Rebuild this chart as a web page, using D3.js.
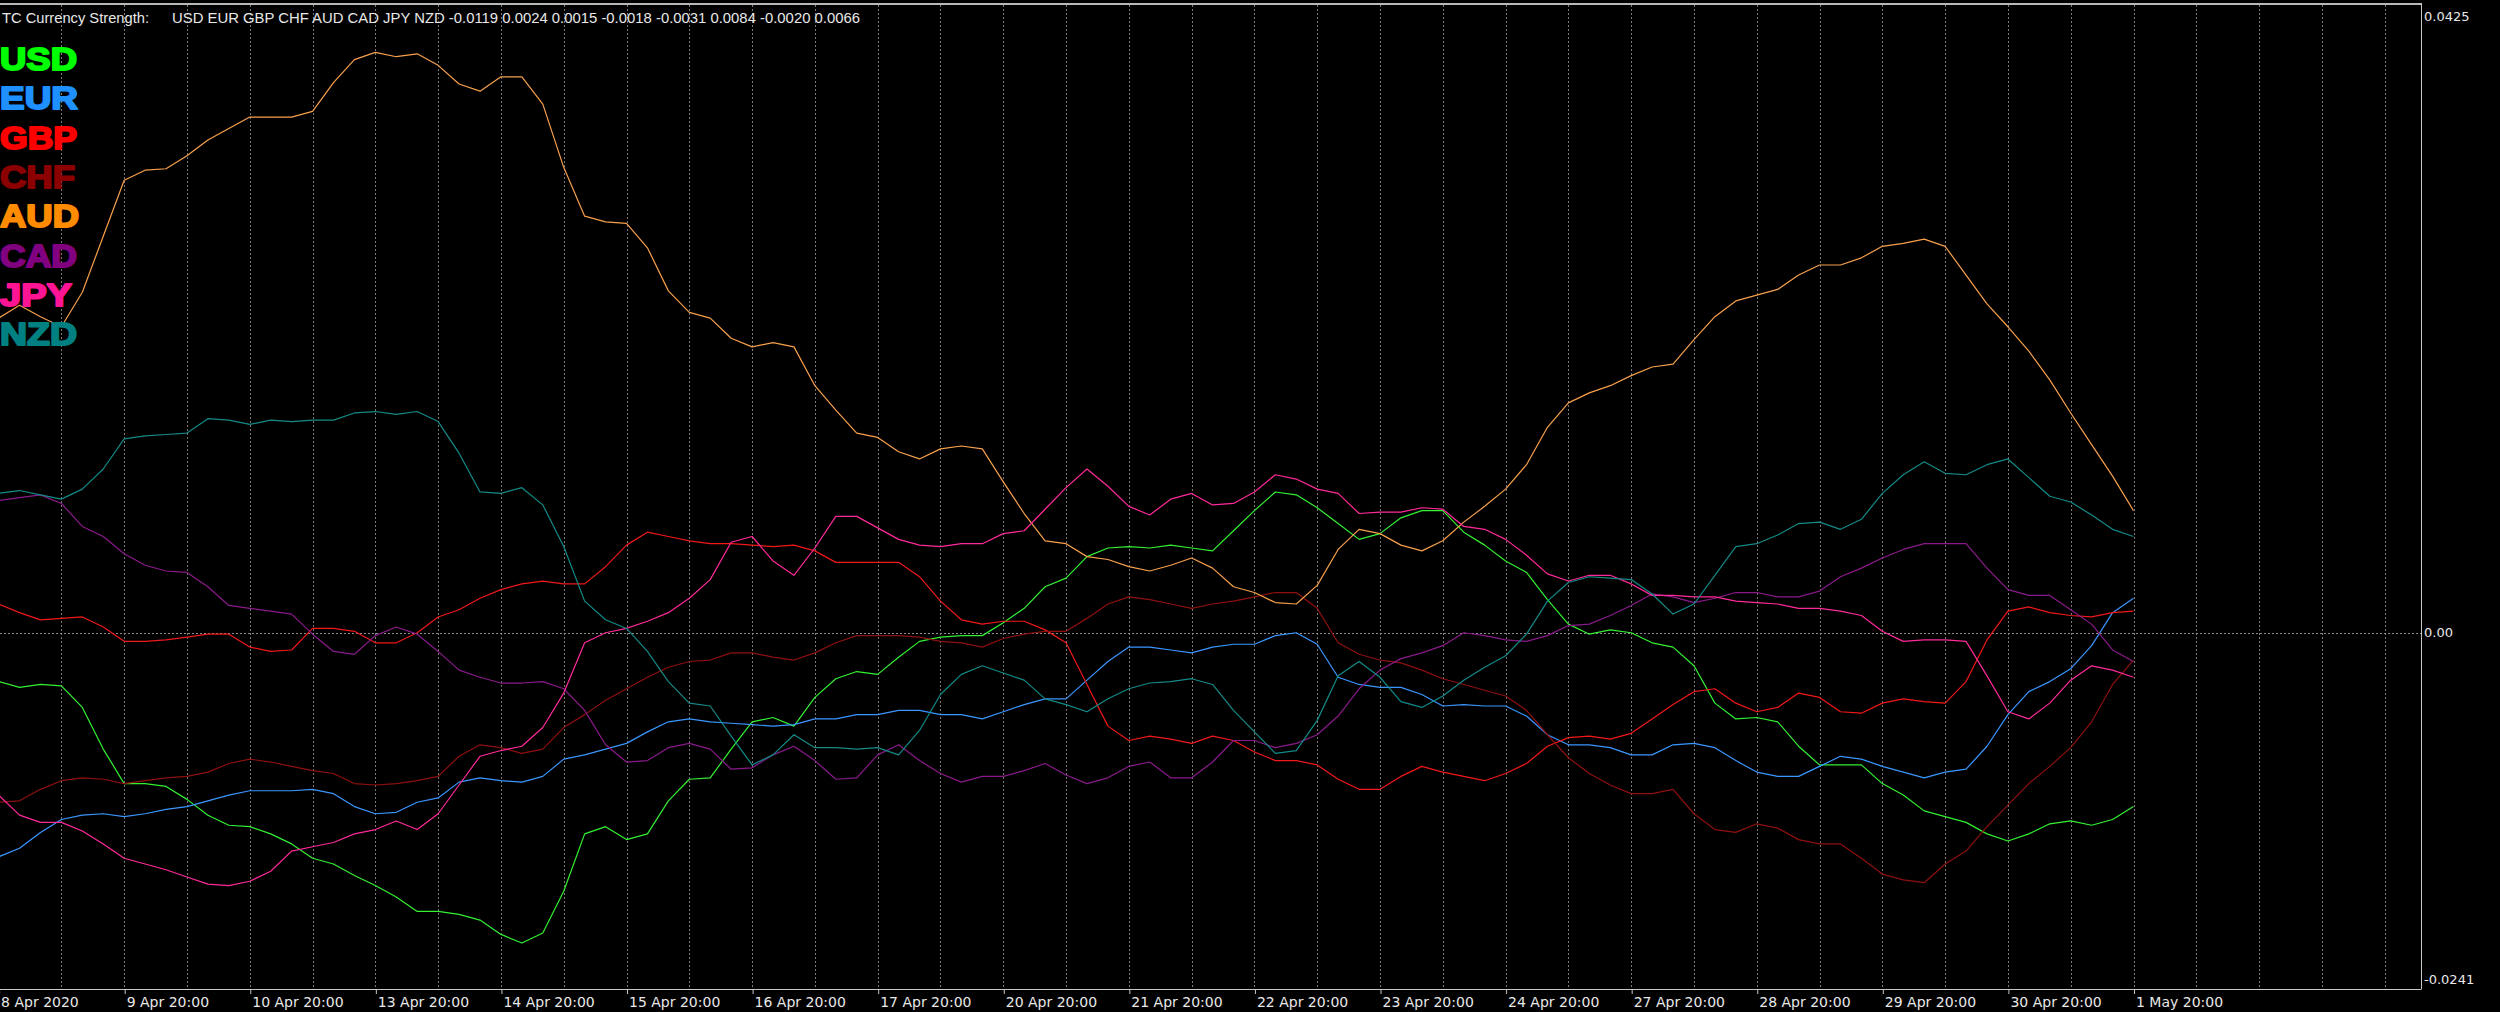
<!DOCTYPE html>
<html><head><meta charset="utf-8">
<script src="https://cdn.jsdelivr.net/npm/d3@7"></script>
<style>html,body{margin:0;padding:0;background:#000;overflow:hidden}</style>
</head><body>
<svg id="chart" width="2500" height="1012"></svg>
<script>
// ---------------- data ----------------
const currencies = ["USD","EUR","GBP","CHF","AUD","CAD","JPY","NZD"];
const barCount = 103; // H4 bars, 8 Apr 20:00 .. 1 May 20:00

const usd = [-0.0034,-0.0038,-0.0036,-0.0037,-0.0052,-0.0081,-0.0105,-0.0105,-0.0107,-0.0116,-0.0127,-0.0134,-0.0135,-0.0140,-0.0147,-0.0157,-0.0161,-0.0169,-0.0176,-0.0184,-0.0194,-0.0194,-0.0196,-0.0200,-0.0210,-0.0216,-0.0209,-0.0180,-0.0140,-0.0135,-0.0144,-0.0140,-0.0117,-0.0102,-0.0101,-0.0081,-0.0062,-0.0059,-0.0065,-0.0045,-0.0032,-0.0027,-0.0029,-0.0017,-0.0006,-0.0003,-0.0002,-0.0002,0.0007,0.0017,0.0032,0.0038,0.0053,0.0059,0.0060,0.0059,0.0061,0.0059,0.0057,0.0071,0.0085,0.0098,0.0096,0.0087,0.0076,0.0065,0.0069,0.0080,0.0085,0.0085,0.0070,0.0061,0.0050,0.0042,0.0023,0.0006,-0.0001,0.0002,0.0000,-0.0007,-0.0010,-0.0023,-0.0049,-0.0060,-0.0059,-0.0062,-0.0079,-0.0092,-0.0092,-0.0092,-0.0105,-0.0113,-0.0124,-0.0128,-0.0132,-0.0140,-0.0145,-0.0140,-0.0133,-0.0131,-0.0134,-0.0130,-0.0121];

const eur = [-0.0156,-0.0150,-0.0139,-0.0130,-0.0127,-0.0126,-0.0128,-0.0126,-0.0123,-0.0121,-0.0117,-0.0113,-0.0110,-0.0110,-0.0110,-0.0109,-0.0112,-0.0121,-0.0126,-0.0125,-0.0118,-0.0115,-0.0104,-0.0101,-0.0103,-0.0104,-0.0100,-0.0088,-0.0085,-0.0081,-0.0077,-0.0069,-0.0062,-0.0060,-0.0062,-0.0063,-0.0064,-0.0065,-0.0064,-0.0060,-0.0060,-0.0057,-0.0057,-0.0054,-0.0054,-0.0057,-0.0057,-0.0060,-0.0055,-0.0050,-0.0046,-0.0046,-0.0033,-0.0020,-0.0010,-0.0010,-0.0012,-0.0014,-0.0010,-0.0008,-0.0008,-0.0002,0.0000,-0.0008,-0.0031,-0.0036,-0.0038,-0.0038,-0.0043,-0.0051,-0.0050,-0.0051,-0.0051,-0.0058,-0.0071,-0.0078,-0.0078,-0.0080,-0.0085,-0.0085,-0.0078,-0.0077,-0.0080,-0.0089,-0.0097,-0.0100,-0.0100,-0.0093,-0.0086,-0.0088,-0.0093,-0.0097,-0.0101,-0.0097,-0.0095,-0.0079,-0.0057,-0.0041,-0.0034,-0.0025,-0.0009,0.0014,0.0024];

const gbp = [0.0020,0.0014,0.0009,0.0010,0.0011,0.0004,-0.0006,-0.0006,-0.0005,-0.0003,-0.0001,-0.0001,-0.0010,-0.0013,-0.0012,0.0003,0.0003,0.0001,-0.0007,-0.0007,0.0000,0.0011,0.0016,0.0024,0.0030,0.0034,0.0036,0.0034,0.0034,0.0046,0.0061,0.0070,0.0067,0.0064,0.0062,0.0062,0.0061,0.0060,0.0061,0.0057,0.0049,0.0049,0.0049,0.0049,0.0039,0.0022,0.0009,0.0006,0.0008,0.0008,0.0002,-0.0007,-0.0036,-0.0065,-0.0075,-0.0072,-0.0074,-0.0077,-0.0072,-0.0075,-0.0083,-0.0089,-0.0089,-0.0092,-0.0102,-0.0109,-0.0109,-0.0100,-0.0093,-0.0097,-0.0100,-0.0103,-0.0098,-0.0091,-0.0079,-0.0073,-0.0072,-0.0074,-0.0070,-0.0060,-0.0050,-0.0041,-0.0039,-0.0049,-0.0055,-0.0052,-0.0042,-0.0045,-0.0055,-0.0056,-0.0049,-0.0046,-0.0048,-0.0049,-0.0034,-0.0005,0.0015,0.0018,0.0014,0.0012,0.0011,0.0014,0.0015];

const chf = [-0.0118,-0.0117,-0.0109,-0.0103,-0.0101,-0.0102,-0.0105,-0.0103,-0.0101,-0.0100,-0.0097,-0.0091,-0.0088,-0.0090,-0.0093,-0.0096,-0.0098,-0.0105,-0.0106,-0.0105,-0.0103,-0.0100,-0.0086,-0.0078,-0.0080,-0.0084,-0.0081,-0.0066,-0.0057,-0.0047,-0.0039,-0.0031,-0.0024,-0.0020,-0.0019,-0.0014,-0.0014,-0.0017,-0.0019,-0.0014,-0.0007,-0.0002,-0.0002,-0.0002,-0.0003,-0.0006,-0.0007,-0.0010,-0.0004,-0.0001,0.0001,0.0001,0.0010,0.0020,0.0025,0.0023,0.0020,0.0017,0.0020,0.0022,0.0025,0.0028,0.0028,0.0017,-0.0007,-0.0015,-0.0019,-0.0021,-0.0026,-0.0032,-0.0036,-0.0040,-0.0044,-0.0054,-0.0071,-0.0087,-0.0098,-0.0106,-0.0112,-0.0112,-0.0109,-0.0126,-0.0137,-0.0139,-0.0133,-0.0136,-0.0144,-0.0147,-0.0147,-0.0157,-0.0168,-0.0172,-0.0174,-0.0161,-0.0152,-0.0135,-0.0120,-0.0105,-0.0093,-0.0080,-0.0062,-0.0036,-0.0019];

const aud = [0.0219,0.0228,0.0220,0.0213,0.0237,0.0276,0.0315,0.0322,0.0323,0.0332,0.0343,0.0351,0.0359,0.0359,0.0359,0.0363,0.0383,0.0399,0.0404,0.0401,0.0403,0.0395,0.0382,0.0377,0.0387,0.0387,0.0368,0.0324,0.0290,0.0286,0.0285,0.0268,0.0238,0.0223,0.0219,0.0205,0.0199,0.0202,0.0199,0.0172,0.0155,0.0139,0.0136,0.0126,0.0121,0.0128,0.0130,0.0128,0.0105,0.0083,0.0064,0.0062,0.0053,0.0051,0.0046,0.0043,0.0047,0.0052,0.0045,0.0032,0.0028,0.0021,0.0020,0.0033,0.0058,0.0072,0.0069,0.0061,0.0057,0.0064,0.0077,0.0088,0.0100,0.0117,0.0143,0.0160,0.0167,0.0172,0.0179,0.0185,0.0187,0.0204,0.0220,0.0231,0.0235,0.0239,0.0249,0.0256,0.0256,0.0261,0.0269,0.0271,0.0274,0.0269,0.0249,0.0229,0.0213,0.0196,0.0176,0.0153,0.0131,0.0109,0.0085];

const cad = [0.0092,0.0094,0.0096,0.0090,0.0074,0.0067,0.0055,0.0047,0.0043,0.0042,0.0032,0.0019,0.0017,0.0015,0.0013,-0.0001,-0.0013,-0.0015,-0.0002,0.0004,-0.0001,-0.0013,-0.0026,-0.0031,-0.0035,-0.0035,-0.0034,-0.0039,-0.0054,-0.0078,-0.0090,-0.0089,-0.0080,-0.0077,-0.0081,-0.0095,-0.0094,-0.0085,-0.0079,-0.0089,-0.0102,-0.0101,-0.0085,-0.0078,-0.0089,-0.0098,-0.0104,-0.0100,-0.0100,-0.0096,-0.0091,-0.0099,-0.0105,-0.0101,-0.0093,-0.0090,-0.0101,-0.0101,-0.0090,-0.0075,-0.0075,-0.0080,-0.0077,-0.0071,-0.0058,-0.0039,-0.0026,-0.0018,-0.0014,-0.0009,0.0000,-0.0002,-0.0005,-0.0006,-0.0002,0.0005,0.0006,0.0012,0.0019,0.0027,0.0025,0.0021,0.0024,0.0028,0.0028,0.0025,0.0025,0.0029,0.0039,0.0045,0.0052,0.0058,0.0062,0.0062,0.0062,0.0045,0.0030,0.0026,0.0026,0.0016,0.0006,-0.0012,-0.0020];

const jpy = [-0.0113,-0.0127,-0.0132,-0.0132,-0.0138,-0.0147,-0.0157,-0.0161,-0.0165,-0.0170,-0.0175,-0.0176,-0.0173,-0.0166,-0.0152,-0.0149,-0.0146,-0.0140,-0.0137,-0.0131,-0.0137,-0.0126,-0.0106,-0.0086,-0.0082,-0.0079,-0.0066,-0.0042,-0.0007,0.0000,0.0003,0.0008,0.0014,0.0024,0.0037,0.0063,0.0067,0.0050,0.0040,0.0059,0.0081,0.0081,0.0073,0.0065,0.0061,0.0060,0.0062,0.0062,0.0069,0.0071,0.0086,0.0101,0.0114,0.0102,0.0088,0.0082,0.0093,0.0097,0.0089,0.0090,0.0098,0.0110,0.0107,0.0100,0.0097,0.0083,0.0084,0.0084,0.0087,0.0086,0.0074,0.0072,0.0065,0.0054,0.0041,0.0036,0.0040,0.0040,0.0034,0.0026,0.0026,0.0025,0.0025,0.0022,0.0021,0.0020,0.0017,0.0017,0.0015,0.0012,0.0001,-0.0006,-0.0005,-0.0005,-0.0006,-0.0030,-0.0055,-0.0060,-0.0049,-0.0033,-0.0023,-0.0026,-0.0031];

const nzd = [0.0097,0.0099,0.0096,0.0093,0.0100,0.0114,0.0135,0.0137,0.0138,0.0139,0.0149,0.0148,0.0145,0.0148,0.0147,0.0148,0.0148,0.0153,0.0154,0.0152,0.0154,0.0147,0.0125,0.0098,0.0097,0.0101,0.0089,0.0060,0.0022,0.0009,0.0003,-0.0013,-0.0034,-0.0049,-0.0051,-0.0072,-0.0092,-0.0085,-0.0071,-0.0080,-0.0080,-0.0081,-0.0080,-0.0085,-0.0068,-0.0043,-0.0029,-0.0023,-0.0028,-0.0033,-0.0046,-0.0050,-0.0055,-0.0046,-0.0039,-0.0035,-0.0034,-0.0032,-0.0036,-0.0054,-0.0069,-0.0084,-0.0082,-0.0061,-0.0030,-0.0020,-0.0031,-0.0048,-0.0052,-0.0044,-0.0033,-0.0024,-0.0016,-0.0001,0.0022,0.0035,0.0039,0.0038,0.0037,0.0027,0.0013,0.0020,0.0040,0.0060,0.0062,0.0068,0.0076,0.0077,0.0072,0.0079,0.0097,0.0110,0.0119,0.0111,0.0110,0.0117,0.0121,0.0108,0.0095,0.0091,0.0082,0.0072,0.0067];

const xTickBars = [0,6,12,18,24,30,36,42,48,54,60,66,72,78,84,90,96,102];
const xTickLabels = ["8 Apr 2020","9 Apr 20:00","10 Apr 20:00","13 Apr 20:00","14 Apr 20:00","15 Apr 20:00","16 Apr 20:00","17 Apr 20:00","20 Apr 20:00","21 Apr 20:00","22 Apr 20:00","23 Apr 20:00","24 Apr 20:00","27 Apr 20:00","28 Apr 20:00","29 Apr 20:00","30 Apr 20:00","1 May 20:00"];
const yTickValues = [0.0425, 0, -0.0241];
const yTickLabels = ["0.0425","0.00","-0.0241"];
const headerTitle = "TC Currency Strength:";
const headerValues = "USD EUR GBP CHF AUD CAD JPY NZD -0.0119 0.0024 0.0015 -0.0018 -0.0031 0.0084 -0.0020 0.0066";

// ---------------- styles ----------------
const seriesList = [usd, eur, gbp, chf, aud, cad, jpy, nzd];
const colors = ["#00ff00","#1e90ff","#ff0000","#8b0000","#ff8c00","#800080","#ff1493","#008080"];
const lineColors = ["#33f033","#3a96ff","#f01818","#8e1010","#f7a04c","#8a1a8a","#ff2a9a","#138a88"];
const legendWidths = [78,79,78,76,80,78,73,78];

// ---------------- layout ----------------
const svg = d3.select("#chart");
const plotLeft = 0, plotRight = 2421, plotTop = 5, plotBottom = 989;
const x = d3.scaleLinear().domain([0, 102]).range([-1.4, 2133.5]);
const y = d3.scaleLinear().domain([-0.0248, 0.0437]).range([plotBottom, plotTop]);

svg.append("rect").attr("width",2500).attr("height",1012).attr("fill","#000");

svg.append("defs").append("clipPath").attr("id","plotclip")
  .append("rect").attr("x",plotLeft).attr("y",plotTop).attr("width",plotRight-plotLeft).attr("height",plotBottom-plotTop);

// vertical dotted grid (every 12h = 3 bars)
const gridBars = d3.range(3, 116, 3).filter(b => x(b) < plotRight - 2);
svg.append("g").selectAll("line").data(gridBars).join("line")
  .attr("x1", d => Math.round(x(d)) + 0.5).attr("x2", d => Math.round(x(d)) + 0.5)
  .attr("y1", plotTop).attr("y2", plotBottom)
  .attr("stroke", "#7a7a7a").attr("stroke-width", 1).attr("stroke-dasharray", "2,2");

// zero level dotted line
svg.append("line")
  .attr("x1", plotLeft).attr("x2", plotRight)
  .attr("y1", Math.round(y(0)) + 0.5).attr("y2", Math.round(y(0)) + 0.5)
  .attr("stroke", "#8c8c8c").attr("stroke-dasharray", "2,2");

// series
const line = d3.line().x((d,i) => x(i)).y(d => y(d));
const gLines = svg.append("g").attr("clip-path","url(#plotclip)");
seriesList.forEach((s, k) => {
  gLines.append("path").datum(s)
    .attr("d", line).attr("fill","none")
    .attr("stroke", lineColors[k]).attr("stroke-width", 1.2)
    .attr("stroke-linejoin","round");
});

// frame
svg.append("line").attr("x1",0).attr("x2",plotRight).attr("y1",4).attr("y2",4)
  .attr("stroke","#b8b8b8").attr("stroke-width",2);
svg.append("line").attr("x1",plotRight+0.5).attr("x2",plotRight+0.5).attr("y1",3).attr("y2",plotBottom+0.5)
  .attr("stroke","#c8c8c8").attr("stroke-width",1);
svg.append("line").attr("x1",0).attr("x2",plotRight).attr("y1",plotBottom+0.5).attr("y2",plotBottom+0.5)
  .attr("stroke","#c8c8c8").attr("stroke-width",1);

// bottom axis
const xAxis = d3.axisBottom(x).tickValues(xTickBars)
  .tickFormat((d,i) => xTickLabels[i]).tickSize(5).tickSizeOuter(0).tickPadding(3);
const gx = svg.append("g").attr("transform", `translate(0,${plotBottom})`).call(xAxis);
gx.select(".domain").remove();
gx.selectAll(".tick line").attr("stroke","#c8c8c8").attr("transform","translate(0.5,0)");
gx.selectAll(".tick text").attr("text-anchor","start").attr("x", 2)
  .attr("fill","#e8e8e8").style("font-family","'DejaVu Sans', sans-serif").style("font-size","14px");

// right axis
const yAxis = d3.axisRight(y).tickValues(yTickValues)
  .tickFormat((d,i) => yTickLabels[i]).tickSize(0).tickPadding(3);
const gy = svg.append("g").attr("transform", `translate(${plotRight},0)`).call(yAxis);
gy.select(".domain").remove();
gy.selectAll(".tick text").attr("fill","#e8e8e8")
  .style("font-family","'DejaVu Sans', sans-serif").style("font-size","13px")
  .attr("dy", d => d === 0.0425 ? "-0.1em" : "0.32em");

// header
svg.append("text").attr("x", 2).attr("y", 23).text(headerTitle)
  .attr("textLength", 147).attr("lengthAdjust","spacingAndGlyphs")
  .attr("fill","#e8e8e8").style("font-family","'Liberation Sans', Arial, sans-serif").style("font-size","15px");
svg.append("text").attr("x", 172).attr("y", 23).text(headerValues)
  .attr("textLength", 688).attr("lengthAdjust","spacingAndGlyphs")
  .attr("fill","#e8e8e8").style("font-family","'Liberation Sans', Arial, sans-serif").style("font-size","15px");

// legend
svg.append("g").selectAll("text").data(currencies).join("text")
  .attr("x", 0).attr("y", (d,i) => 70 + i * 39.3)
  .text(d => d)
  .attr("fill", (d,i) => colors[i]).attr("stroke", (d,i) => colors[i]).attr("stroke-width", 2)
  .attr("stroke-linejoin","round")
  .attr("textLength", (d,i) => legendWidths[i] - 1).attr("lengthAdjust","spacingAndGlyphs")
  .style("font-family","'Liberation Sans', Arial, sans-serif").style("font-weight","bold").style("font-size","32px");
</script>
</body></html>
